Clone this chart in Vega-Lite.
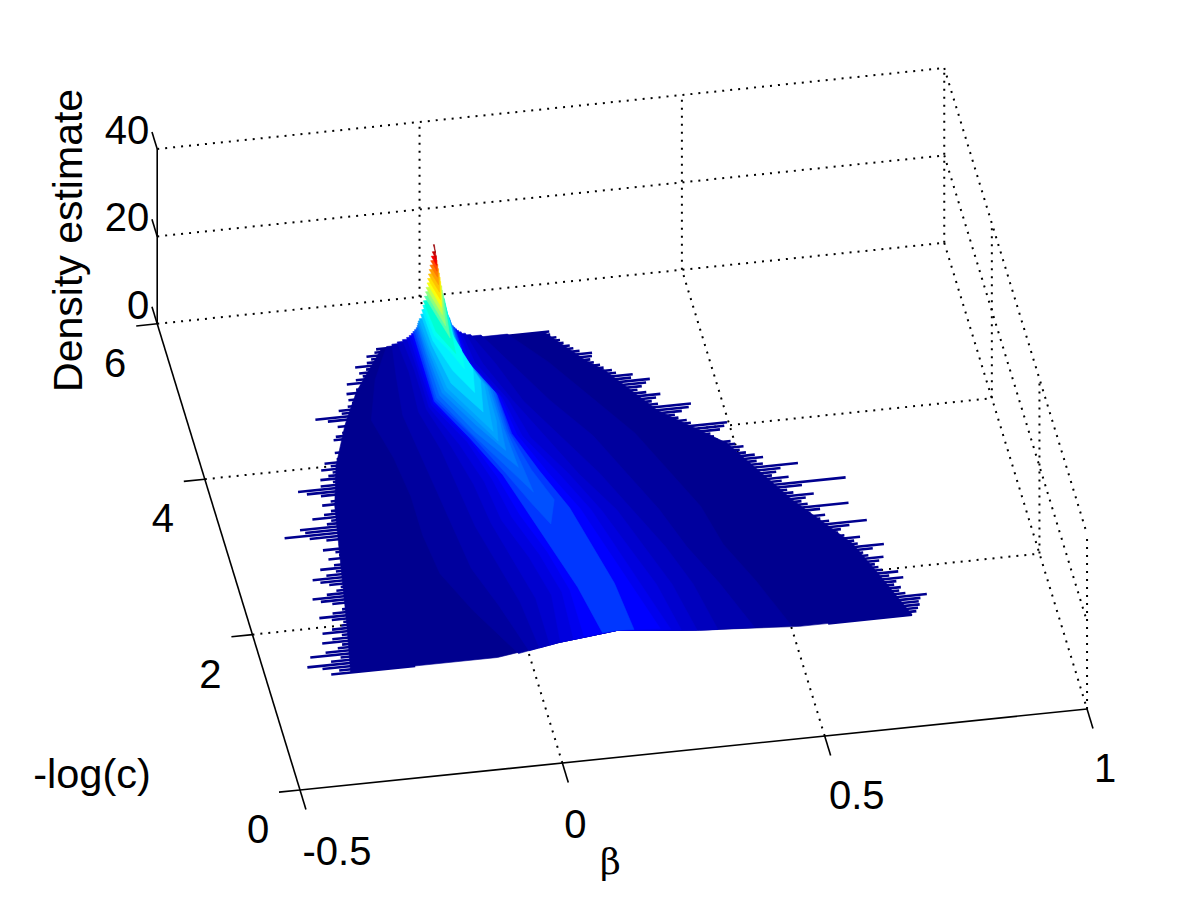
{"$schema":"https://vega.github.io/schema/vega-lite/v6.json","width":1200,"height":901,"padding":0,"autosize":"none","background":"white","view":{"stroke":null},
"config":{"text":{"font":"Liberation Sans","fontSize":40,"color":"black","baseline":"middle"}},
"datasets":{
"grid":[
{"b":-0.5,"c":6,"z":0,"b2":1,"c2":6,"z2":0},{"b":-0.5,"c":6,"z":20,"b2":1,"c2":6,"z2":20},{"b":-0.5,"c":6,"z":40,"b2":1,"c2":6,"z2":40},
{"b":0,"c":6,"z":0,"b2":0,"c2":6,"z2":40},{"b":0.5,"c":6,"z":0,"b2":0.5,"c2":6,"z2":40},{"b":1,"c":6,"z":0,"b2":1,"c2":6,"z2":40},
{"b":1,"c":6,"z":0,"b2":1,"c2":0,"z2":0},{"b":1,"c":6,"z":20,"b2":1,"c2":0,"z2":20},{"b":1,"c":6,"z":40,"b2":1,"c2":0,"z2":40},
{"b":1,"c":4,"z":0,"b2":1,"c2":4,"z2":40},{"b":1,"c":2,"z":0,"b2":1,"c2":2,"z2":40},{"b":1,"c":0,"z":0,"b2":1,"c2":0,"z2":40},
{"b":-0.5,"c":2,"z":0,"b2":1,"c2":2,"z2":0},{"b":-0.5,"c":4,"z":0,"b2":1,"c2":4,"z2":0},
{"b":0,"c":0,"z":0,"b2":0,"c2":6,"z2":0},{"b":0.5,"c":0,"z":0,"b2":0.5,"c2":6,"z2":0}],
"axes":[
{"b":-0.5,"c":0,"z":0,"b2":1,"c2":0,"z2":0},{"b":-0.5,"c":0,"z":0,"b2":-0.5,"c2":6,"z2":0},{"b":-0.5,"c":6,"z":0,"b2":-0.5,"c2":6,"z2":40},
{"b":-0.5,"c":0,"z":0,"b2":-0.5,"c2":-0.25,"z2":0},{"b":0,"c":0,"z":0,"b2":0,"c2":-0.25,"z2":0},{"b":0.5,"c":0,"z":0,"b2":0.5,"c2":-0.25,"z2":0},{"b":1,"c":0,"z":0,"b2":1,"c2":-0.25,"z2":0},
{"b":-0.5,"c":0,"z":0,"b2":-0.54,"c2":0,"z2":0},{"b":-0.5,"c":2,"z":0,"b2":-0.54,"c2":2,"z2":0},{"b":-0.5,"c":4,"z":0,"b2":-0.54,"c2":4,"z2":0},{"b":-0.5,"c":6,"z":0,"b2":-0.54,"c2":6,"z2":0},
{"b":-0.5,"c":6,"z":0,"b2":-0.5,"c2":6.22,"z2":0},{"b":-0.5,"c":6,"z":20,"b2":-0.5,"c2":6.22,"z2":20},{"b":-0.5,"c":6,"z":40,"b2":-0.5,"c2":6.22,"z2":40}],
"spikes":[
{"c":1.40,"b0":-0.377,"b1":0.73},{"c":1.44,"b0":-0.36,"b1":0.74},{"c":1.48,"b0":-0.39,"b1":0.745},{"c":1.52,"b0":-0.417,"b1":0.75},{"c":1.56,"b0":-0.37,"b1":0.75},{"c":1.60,"b0":-0.35,"b1":0.755},{"c":1.64,"b0":-0.406,"b1":0.769},{"c":1.68,"b0":-0.375,"b1":0.73},{"c":1.72,"b0":-0.35,"b1":0.72},{"c":1.76,"b0":-0.34,"b1":0.725},
{"c":1.80,"b0":-0.376,"b1":0.714},{"c":1.84,"b0":-0.355,"b1":0.72},{"c":1.88,"b0":-0.335,"b1":0.735},{"c":1.92,"b0":-0.37,"b1":0.71},{"c":1.96,"b0":-0.35,"b1":0.729},{"c":2.00,"b0":-0.33,"b1":0.70},{"c":2.04,"b0":-0.325,"b1":0.695},{"c":2.08,"b0":-0.345,"b1":0.69},{"c":2.12,"b0":-0.367,"b1":0.70},{"c":2.16,"b0":-0.34,"b1":0.71},
{"c":2.20,"b0":-0.32,"b1":0.683},{"c":2.24,"b0":-0.31,"b1":0.675},{"c":2.28,"b0":-0.335,"b1":0.695},{"c":2.32,"b0":-0.355,"b1":0.718},{"c":2.36,"b0":-0.369,"b1":0.67},{"c":2.40,"b0":-0.34,"b1":0.665},{"c":2.44,"b0":-0.32,"b1":0.678},{"c":2.48,"b0":-0.31,"b1":0.65},{"c":2.52,"b0":-0.33,"b1":0.64},{"c":2.56,"b0":-0.345,"b1":0.647},
{"c":2.60,"b0":-0.358,"b1":0.665},{"c":2.64,"b0":-0.33,"b1":0.70},{"c":2.68,"b0":-0.31,"b1":0.63},{"c":2.72,"b0":-0.338,"b1":0.615},{"c":2.76,"b0":-0.31,"b1":0.626},{"c":2.80,"b0":-0.295,"b1":0.60},{"c":2.84,"b0":-0.317,"b1":0.62},{"c":2.88,"b0":-0.295,"b1":0.676},{"c":2.92,"b0":-0.30,"b1":0.60},{"c":2.96,"b0":-0.322,"b1":0.59},
{"c":3.00,"b0":-0.29,"b1":0.60},{"c":3.04,"b0":-0.28,"b1":0.617},{"c":3.08,"b0":-0.31,"b1":0.58},{"c":3.12,"b0":-0.34,"b1":0.57},{"c":3.16,"b0":-0.386,"b1":0.60},{"c":3.20,"b0":-0.345,"b1":0.685},{"c":3.24,"b0":-0.353,"b1":0.565},{"c":3.28,"b0":-0.30,"b1":0.58},{"c":3.32,"b0":-0.29,"b1":0.55},{"c":3.36,"b0":-0.324,"b1":0.56},
{"c":3.40,"b0":-0.30,"b1":0.57},{"c":3.44,"b0":-0.285,"b1":0.605},{"c":3.48,"b0":-0.275,"b1":0.54},{"c":3.52,"b0":-0.298,"b1":0.53},{"c":3.56,"b0":-0.28,"b1":0.544},{"c":3.60,"b0":-0.27,"b1":0.53},{"c":3.64,"b0":-0.295,"b1":0.515},{"c":3.68,"b0":-0.32,"b1":0.505},{"c":3.72,"b0":-0.335,"b1":0.514},{"c":3.76,"b0":-0.29,"b1":0.50},
{"c":3.80,"b0":-0.265,"b1":0.493},{"c":3.84,"b0":-0.287,"b1":0.47},{"c":3.88,"b0":-0.27,"b1":0.465},{"c":3.92,"b0":-0.26,"b1":0.46},{"c":3.96,"b0":-0.28,"b1":0.48},{"c":4.00,"b0":-0.26,"b1":0.49},{"c":4.04,"b0":-0.27,"b1":0.497},{"c":4.08,"b0":-0.245,"b1":0.43},{"c":4.12,"b0":-0.235,"b1":0.424},{"c":4.16,"b0":-0.245,"b1":0.41},
{"c":4.20,"b0":-0.23,"b1":0.405},{"c":4.24,"b0":-0.225,"b1":0.42},{"c":4.28,"b0":-0.22,"b1":0.435},{"c":4.32,"b0":-0.24,"b1":0.441},{"c":4.36,"b0":-0.234,"b1":0.38},{"c":4.40,"b0":-0.22,"b1":0.37},{"c":4.44,"b0":-0.21,"b1":0.38},{"c":4.48,"b0":-0.225,"b1":0.39},{"c":4.52,"b0":-0.205,"b1":0.365},{"c":4.56,"b0":-0.24,"b1":0.35},
{"c":4.60,"b0":-0.262,"b1":0.36},{"c":4.64,"b0":-0.21,"b1":0.37},{"c":4.68,"b0":-0.214,"b1":0.379},{"c":4.72,"b0":-0.195,"b1":0.345},{"c":4.76,"b0":-0.185,"b1":0.35},{"c":4.80,"b0":-0.19,"b1":0.32},{"c":4.84,"b0":-0.175,"b1":0.314},{"c":4.88,"b0":-0.19,"b1":0.30},{"c":4.92,"b0":-0.17,"b1":0.295},{"c":4.96,"b0":-0.16,"b1":0.285},
{"c":5.00,"b0":-0.184,"b1":0.28},{"c":5.04,"b0":-0.165,"b1":0.285},{"c":5.08,"b0":-0.15,"b1":0.287},{"c":5.12,"b0":-0.155,"b1":0.265},{"c":5.16,"b0":-0.14,"b1":0.255},{"c":5.20,"b0":-0.159,"b1":0.25},{"c":5.24,"b0":-0.135,"b1":0.24},{"c":5.28,"b0":-0.125,"b1":0.235},{"c":5.32,"b0":-0.132,"b1":0.23},{"c":5.36,"b0":-0.115,"b1":0.22},{"c":5.40,"b0":-0.11,"b1":0.22}],
"surface":[
{"l":0,"b":-0.34,"c":1.4,"z":0},{"l":0,"b":-0.32,"c":2,"z":0},{"l":0,"b":-0.29,"c":3,"z":0},{"l":0,"b":-0.275,"c":3.5,"z":0},{"l":0,"b":-0.25,"c":4,"z":0},{"l":0,"b":-0.21,"c":4.5,"z":0},{"l":0,"b":-0.17,"c":4.9,"z":0},{"l":0,"b":-0.1,"c":5.4,"z":0},{"l":0,"b":0.21,"c":5.4,"z":0},{"l":0,"b":0.27,"c":5,"z":0},{"l":0,"b":0.3,"c":4.85,"z":0},{"l":0,"b":0.375,"c":4.28,"z":0},{"l":0,"b":0.485,"c":3.78,"z":0},{"l":0,"b":0.575,"c":2.98,"z":0},{"l":0,"b":0.66,"c":2.37,"z":0},{"l":0,"b":0.69,"c":1.97,"z":0},{"l":0,"b":0.716,"c":1.6,"z":0},{"l":0,"b":0.73,"c":1.4,"z":0},{"l":0,"b":0.516,"c":1.4,"z":0},{"l":0,"b":0.325,"c":1.4,"z":1.5},{"l":0,"b":0.23,"c":1.4,"z":2.6},{"l":0,"b":0.17,"c":1.4,"z":3.4},{"l":0,"b":0.115,"c":1.4,"z":2.7},{"l":0,"b":0.058,"c":1.4,"z":2},{"l":0,"b":-0.06,"c":1.4,"z":0},
{"l":0.4,"b":-0.02,"c":1.4,"z":0.4},{"l":0.4,"b":-0.08,"c":2,"z":0.4},{"l":0.4,"b":-0.12,"c":2.5,"z":0.4},{"l":0.4,"b":-0.13,"c":3,"z":0.4},{"l":0.4,"b":-0.13,"c":3.5,"z":0.4},{"l":0.4,"b":-0.14,"c":4,"z":0.4},{"l":0.4,"b":-0.16,"c":4.5,"z":0.4},{"l":0.4,"b":-0.13,"c":5,"z":0.4},{"l":0.4,"b":-0.09,"c":5.4,"z":0.4},{"l":0.4,"b":0.14,"c":5.4,"z":0.4},{"l":0.4,"b":0.2,"c":5,"z":0.4},{"l":0.4,"b":0.26,"c":4.5,"z":0.4},{"l":0.4,"b":0.32,"c":4,"z":0.4},{"l":0.4,"b":0.36,"c":3.5,"z":0.4},{"l":0.4,"b":0.4,"c":3,"z":0.4},{"l":0.4,"b":0.42,"c":2.5,"z":0.4},{"l":0.4,"b":0.46,"c":2,"z":0.4},{"l":0.4,"b":0.5,"c":1.4,"z":0.4},{"l":0.4,"b":0.325,"c":1.4,"z":1.5},{"l":0.4,"b":0.23,"c":1.4,"z":2.6},{"l":0.4,"b":0.17,"c":1.4,"z":3.4},{"l":0.4,"b":0.115,"c":1.4,"z":2.7},{"l":0.4,"b":0.058,"c":1.4,"z":2},
{"l":0.8,"b":0,"c":1.4,"z":0.8},{"l":0.8,"b":-0.03,"c":2,"z":0.8},{"l":0.8,"b":-0.06,"c":2.5,"z":0.8},{"l":0.8,"b":-0.07,"c":3,"z":0.8},{"l":0.8,"b":-0.08,"c":3.5,"z":0.8},{"l":0.8,"b":-0.09,"c":4,"z":0.8},{"l":0.8,"b":-0.1,"c":4.5,"z":0.8},{"l":0.8,"b":-0.09,"c":5,"z":0.8},{"l":0.8,"b":-0.08,"c":5.4,"z":0.8},{"l":0.8,"b":0.09,"c":5.4,"z":0.8},{"l":0.8,"b":0.13,"c":5,"z":0.8},{"l":0.8,"b":0.18,"c":4.5,"z":0.8},{"l":0.8,"b":0.24,"c":4,"z":0.8},{"l":0.8,"b":0.28,"c":3.5,"z":0.8},{"l":0.8,"b":0.32,"c":3,"z":0.8},{"l":0.8,"b":0.35,"c":2.5,"z":0.8},{"l":0.8,"b":0.39,"c":2,"z":0.8},{"l":0.8,"b":0.43,"c":1.4,"z":0.8},{"l":0.8,"b":0.325,"c":1.4,"z":1.5},{"l":0.8,"b":0.23,"c":1.4,"z":2.6},{"l":0.8,"b":0.17,"c":1.4,"z":3.4},{"l":0.8,"b":0.115,"c":1.4,"z":2.7},{"l":0.8,"b":0.058,"c":1.4,"z":2},
{"l":1.2,"b":0.02,"c":1.4,"z":1.2},{"l":1.2,"b":0.01,"c":2,"z":1.2},{"l":1.2,"b":-0.01,"c":2.5,"z":1.2},{"l":1.2,"b":-0.03,"c":3,"z":1.2},{"l":1.2,"b":-0.04,"c":3.5,"z":1.2},{"l":1.2,"b":-0.05,"c":4,"z":1.2},{"l":1.2,"b":-0.07,"c":4.5,"z":1.2},{"l":1.2,"b":-0.065,"c":5,"z":1.2},{"l":1.2,"b":-0.07,"c":5.4,"z":1.2},{"l":1.2,"b":0.07,"c":5.4,"z":1.2},{"l":1.2,"b":0.1,"c":5,"z":1.2},{"l":1.2,"b":0.13,"c":4.5,"z":1.2},{"l":1.2,"b":0.18,"c":4,"z":1.2},{"l":1.2,"b":0.23,"c":3.5,"z":1.2},{"l":1.2,"b":0.27,"c":3,"z":1.2},{"l":1.2,"b":0.31,"c":2.5,"z":1.2},{"l":1.2,"b":0.34,"c":2,"z":1.2},{"l":1.2,"b":0.36,"c":1.4,"z":1.2},{"l":1.2,"b":0.325,"c":1.4,"z":1.5},{"l":1.2,"b":0.23,"c":1.4,"z":2.6},{"l":1.2,"b":0.17,"c":1.4,"z":3.4},{"l":1.2,"b":0.115,"c":1.4,"z":2.7},{"l":1.2,"b":0.058,"c":1.4,"z":2},
{"l":1.6,"b":0.04,"c":1.4,"z":1.6},{"l":1.6,"b":0.04,"c":2,"z":1.6},{"l":1.6,"b":0.02,"c":2.5,"z":1.6},{"l":1.6,"b":0,"c":3,"z":1.6},{"l":1.6,"b":-0.01,"c":3.5,"z":1.6},{"l":1.6,"b":-0.03,"c":4,"z":1.6},{"l":1.6,"b":-0.055,"c":4.5,"z":1.6},{"l":1.6,"b":-0.055,"c":5,"z":1.6},{"l":1.6,"b":-0.06,"c":5.4,"z":1.6},{"l":1.6,"b":0.06,"c":5.4,"z":1.6},{"l":1.6,"b":0.075,"c":5,"z":1.6},{"l":1.6,"b":0.11,"c":4.5,"z":1.6},{"l":1.6,"b":0.15,"c":4,"z":1.6},{"l":1.6,"b":0.19,"c":3.5,"z":1.6},{"l":1.6,"b":0.24,"c":3,"z":1.6},{"l":1.6,"b":0.27,"c":2.5,"z":1.6},{"l":1.6,"b":0.3,"c":2,"z":1.6},{"l":1.6,"b":0.32,"c":1.4,"z":1.6},{"l":1.6,"b":0.23,"c":1.4,"z":2.6},{"l":1.6,"b":0.17,"c":1.4,"z":3.4},{"l":1.6,"b":0.115,"c":1.4,"z":2.7},{"l":1.6,"b":0.058,"c":1.4,"z":2},
{"l":2,"b":0.06,"c":1.4,"z":2},{"l":2,"b":0.07,"c":2,"z":2},{"l":2,"b":0.05,"c":2.5,"z":2},{"l":2,"b":0.02,"c":3,"z":2},{"l":2,"b":0.01,"c":3.5,"z":2},{"l":2,"b":-0.015,"c":4,"z":2},{"l":2,"b":-0.05,"c":4.5,"z":2},{"l":2,"b":-0.05,"c":5,"z":2},{"l":2,"b":-0.052,"c":5.4,"z":2},{"l":2,"b":0.052,"c":5.4,"z":2},{"l":2,"b":0.06,"c":5,"z":2},{"l":2,"b":0.1,"c":4.5,"z":2},{"l":2,"b":0.12,"c":4,"z":2},{"l":2,"b":0.17,"c":3.5,"z":2},{"l":2,"b":0.21,"c":3,"z":2},{"l":2,"b":0.24,"c":2.5,"z":2},{"l":2,"b":0.27,"c":2,"z":2},{"l":2,"b":0.29,"c":1.4,"z":2},{"l":2,"b":0.23,"c":1.4,"z":2.6},{"l":2,"b":0.17,"c":1.4,"z":3.4},{"l":2,"b":0.115,"c":1.4,"z":2.7},
{"l":2.4,"b":0.085,"c":1.4,"z":2.4},{"l":2.4,"b":0.09,"c":2,"z":2.4},{"l":2.4,"b":0.07,"c":2.5,"z":2.4},{"l":2.4,"b":0.04,"c":3,"z":2.4},{"l":2.4,"b":0.025,"c":3.5,"z":2.4},{"l":2.4,"b":0,"c":4,"z":2.4},{"l":2.4,"b":-0.045,"c":4.5,"z":2.4},{"l":2.4,"b":-0.047,"c":5,"z":2.4},{"l":2.4,"b":-0.047,"c":5.4,"z":2.4},{"l":2.4,"b":0.047,"c":5.4,"z":2.4},{"l":2.4,"b":0.05,"c":5,"z":2.4},{"l":2.4,"b":0.09,"c":4.5,"z":2.4},{"l":2.4,"b":0.105,"c":4,"z":2.4},{"l":2.4,"b":0.15,"c":3.5,"z":2.4},{"l":2.4,"b":0.19,"c":3,"z":2.4},{"l":2.4,"b":0.215,"c":2.5,"z":2.4},{"l":2.4,"b":0.24,"c":2,"z":2.4},{"l":2.4,"b":0.27,"c":1.4,"z":2.4},{"l":2.4,"b":0.23,"c":1.4,"z":2.6},{"l":2.4,"b":0.17,"c":1.4,"z":3.4},{"l":2.4,"b":0.115,"c":1.4,"z":2.7},
{"l":2.8,"b":0.105,"c":1.4,"z":2.8},{"l":2.8,"b":0.105,"c":2,"z":2.8},{"l":2.8,"b":0.085,"c":2.5,"z":2.8},{"l":2.8,"b":0.055,"c":3,"z":2.8},{"l":2.8,"b":0.035,"c":3.5,"z":2.8},{"l":2.8,"b":0.005,"c":4,"z":2.8},{"l":2.8,"b":-0.042,"c":4.5,"z":2.8},{"l":2.8,"b":-0.043,"c":5,"z":2.8},{"l":2.8,"b":-0.043,"c":5.4,"z":2.8},{"l":2.8,"b":0.043,"c":5.4,"z":2.8},{"l":2.8,"b":0.045,"c":5,"z":2.8},{"l":2.8,"b":0.085,"c":4.5,"z":2.8},{"l":2.8,"b":0.095,"c":4,"z":2.8},{"l":2.8,"b":0.13,"c":3.5,"z":2.8},{"l":2.8,"b":0.17,"c":3,"z":2.8},{"l":2.8,"b":0.195,"c":2.5,"z":2.8},{"l":2.8,"b":0.22,"c":2,"z":2.8},{"l":2.8,"b":0.25,"c":1.4,"z":2.8},{"l":2.8,"b":0.17,"c":1.4,"z":3.4},
{"l":3.2,"b":0.14,"c":1.4,"z":3.2},{"l":3.2,"b":0.12,"c":2,"z":3.2},{"l":3.2,"b":0.095,"c":2.5,"z":3.2},{"l":3.2,"b":0.07,"c":3,"z":3.2},{"l":3.2,"b":0.045,"c":3.5,"z":3.2},{"l":3.2,"b":0.005,"c":4,"z":3.2},{"l":3.2,"b":-0.04,"c":4.5,"z":3.2},{"l":3.2,"b":-0.04,"c":5,"z":3.2},{"l":3.2,"b":-0.04,"c":5.4,"z":3.2},{"l":3.2,"b":0.04,"c":5.4,"z":3.2},{"l":3.2,"b":0.04,"c":5,"z":3.2},{"l":3.2,"b":0.08,"c":4.5,"z":3.2},{"l":3.2,"b":0.085,"c":4,"z":3.2},{"l":3.2,"b":0.115,"c":3.5,"z":3.2},{"l":3.2,"b":0.15,"c":3,"z":3.2},{"l":3.2,"b":0.17,"c":2.5,"z":3.2},{"l":3.2,"b":0.19,"c":2,"z":3.2},{"l":3.2,"b":0.2,"c":1.4,"z":3.2},{"l":3.2,"b":0.17,"c":1.4,"z":3.4},
{"l":3.6,"b":0.105,"c":2.8,"z":3.6},{"l":3.6,"b":0.08,"c":3.1,"z":3.6},{"l":3.6,"b":0.05,"c":3.5,"z":3.6},{"l":3.6,"b":0.01,"c":4,"z":3.6},{"l":3.6,"b":-0.038,"c":4.5,"z":3.6},{"l":3.6,"b":-0.037,"c":5,"z":3.6},{"l":3.6,"b":-0.037,"c":5.4,"z":3.6},{"l":3.6,"b":0.037,"c":5.4,"z":3.6},{"l":3.6,"b":0.037,"c":5,"z":3.6},{"l":3.6,"b":0.078,"c":4.5,"z":3.6},{"l":3.6,"b":0.08,"c":4,"z":3.6},{"l":3.6,"b":0.1,"c":3.5,"z":3.6},{"l":3.6,"b":0.125,"c":3.1,"z":3.6},
{"l":4,"b":0.09,"c":3.2,"z":4},{"l":4,"b":0.06,"c":3.5,"z":4},{"l":4,"b":0.01,"c":4,"z":4},{"l":4,"b":-0.035,"c":4.5,"z":4},{"l":4,"b":-0.035,"c":5,"z":4},{"l":4,"b":-0.034,"c":5.4,"z":4},{"l":4,"b":0.034,"c":5.4,"z":4},{"l":4,"b":0.035,"c":5,"z":4},{"l":4,"b":0.075,"c":4.5,"z":4},{"l":4,"b":0.075,"c":4,"z":4},{"l":4,"b":0.085,"c":3.5,"z":4},
{"l":4.5,"b":0.075,"c":3.5,"z":4.5},{"l":4.5,"b":0.015,"c":4,"z":4.5},{"l":4.5,"b":-0.03,"c":4.5,"z":4.5},{"l":4.5,"b":-0.032,"c":5,"z":4.5},{"l":4.5,"b":-0.032,"c":5.4,"z":4.5},{"l":4.5,"b":0.032,"c":5.4,"z":4.5},{"l":4.5,"b":0.032,"c":5,"z":4.5},{"l":4.5,"b":0.07,"c":4.5,"z":4.5},{"l":4.5,"b":0.07,"c":4,"z":4.5},
{"l":5,"b":0.06,"c":3.7,"z":5},{"l":5,"b":0.02,"c":4.05,"z":5},{"l":5,"b":-0.025,"c":4.5,"z":5},{"l":5,"b":-0.03,"c":5,"z":5},{"l":5,"b":-0.031,"c":5.4,"z":5},{"l":5,"b":0.031,"c":5.4,"z":5},{"l":5,"b":0.03,"c":5,"z":5},{"l":5,"b":0.065,"c":4.5,"z":5},{"l":5,"b":0.065,"c":4.05,"z":5},
{"l":5.5,"b":0.05,"c":3.8,"z":5.5},{"l":5.5,"b":0.025,"c":4.05,"z":5.5},{"l":5.5,"b":-0.02,"c":4.5,"z":5.5},{"l":5.5,"b":-0.027,"c":5,"z":5.5},{"l":5.5,"b":-0.03,"c":5.4,"z":5.5},{"l":5.5,"b":0.03,"c":5.4,"z":5.5},{"l":5.5,"b":0.027,"c":5,"z":5.5},{"l":5.5,"b":0.06,"c":4.5,"z":5.5},{"l":5.5,"b":0.058,"c":4.05,"z":5.5},
{"l":6,"b":0.045,"c":3.9,"z":6},{"l":6,"b":-0.015,"c":4.5,"z":6},{"l":6,"b":-0.025,"c":5,"z":6},{"l":6,"b":-0.028,"c":5.4,"z":6},{"l":6,"b":0.028,"c":5.4,"z":6},{"l":6,"b":0.025,"c":5,"z":6},{"l":6,"b":0.055,"c":4.5,"z":6},
{"l":7,"b":0.035,"c":4.1,"z":7},{"l":7,"b":-0.008,"c":4.5,"z":7},{"l":7,"b":-0.022,"c":5,"z":7},{"l":7,"b":-0.025,"c":5.4,"z":7},{"l":7,"b":0.025,"c":5.4,"z":7},{"l":7,"b":0.022,"c":5,"z":7},{"l":7,"b":0.048,"c":4.5,"z":7},
{"l":8,"b":0.028,"c":4.3,"z":8},{"l":8,"b":0,"c":4.6,"z":8},{"l":8,"b":-0.02,"c":5,"z":8},{"l":8,"b":-0.023,"c":5.4,"z":8},{"l":8,"b":0.023,"c":5.4,"z":8},{"l":8,"b":0.02,"c":5,"z":8},{"l":8,"b":0.038,"c":4.6,"z":8},
{"l":9,"b":0.02,"c":4.55,"z":9},{"l":9,"b":0.002,"c":4.8,"z":9},{"l":9,"b":-0.017,"c":5,"z":9},{"l":9,"b":-0.021,"c":5.4,"z":9},{"l":9,"b":0.021,"c":5.4,"z":9},{"l":9,"b":0.017,"c":5,"z":9},{"l":9,"b":0.025,"c":4.8,"z":9},
{"l":10,"b":0.01,"c":4.7,"z":10},{"l":10,"b":-0.014,"c":5,"z":10},{"l":10,"b":-0.02,"c":5.4,"z":10},{"l":10,"b":0.02,"c":5.4,"z":10},{"l":10,"b":0.014,"c":5,"z":10},
{"l":11,"b":0.006,"c":4.85,"z":11},{"l":11,"b":-0.018,"c":5.4,"z":11},{"l":11,"b":0.018,"c":5.4,"z":11},
{"l":12,"b":0.002,"c":4.95,"z":12},{"l":12,"b":-0.016,"c":5.4,"z":12},{"l":12,"b":0.016,"c":5.4,"z":12},
{"l":13,"b":0,"c":5.04,"z":13},{"l":13,"b":-0.015,"c":5.4,"z":13},{"l":13,"b":0.015,"c":5.4,"z":13},
{"l":14,"b":0,"c":5.08,"z":14},{"l":14,"b":-0.013,"c":5.4,"z":14},{"l":14,"b":0.013,"c":5.4,"z":14},
{"l":15,"b":0,"c":5.12,"z":15},{"l":15,"b":-0.012,"c":5.4,"z":15},{"l":15,"b":0.012,"c":5.4,"z":15},
{"l":16,"b":0,"c":5.16,"z":16},{"l":16,"b":-0.0105,"c":5.4,"z":16},{"l":16,"b":0.0105,"c":5.4,"z":16},
{"l":17,"b":0,"c":5.2,"z":17},{"l":17,"b":-0.009,"c":5.4,"z":17},{"l":17,"b":0.009,"c":5.4,"z":17},
{"l":18,"b":0,"c":5.24,"z":18},{"l":18,"b":-0.0075,"c":5.4,"z":18},{"l":18,"b":0.0075,"c":5.4,"z":18},
{"l":19,"b":0,"c":5.26,"z":19},{"l":19,"b":-0.006,"c":5.4,"z":19},{"l":19,"b":0.006,"c":5.4,"z":19},
{"l":20,"b":0,"c":5.28,"z":20},{"l":20,"b":-0.005,"c":5.4,"z":20},{"l":20,"b":0.005,"c":5.4,"z":20},
{"l":21,"b":0,"c":5.3,"z":21},{"l":21,"b":-0.003,"c":5.4,"z":21},{"l":21,"b":0.003,"c":5.4,"z":21},
{"l":22,"b":0,"c":5.33,"z":22},{"l":22,"b":-0.001,"c":5.4,"z":22.6},{"l":22,"b":0.001,"c":5.4,"z":22.6}],
"labels":[
{"k":"cax","t":"0","b":-0.5,"c":0,"z":0},{"k":"cax","t":"2","b":-0.5,"c":2,"z":0},{"k":"cax","t":"4","b":-0.5,"c":4,"z":0},{"k":"cax","t":"6","b":-0.5,"c":6,"z":0},
{"k":"zax","t":"0","b":-0.5,"c":6,"z":0},{"k":"zax","t":"20","b":-0.5,"c":6,"z":20},{"k":"zax","t":"40","b":-0.5,"c":6,"z":40},
{"k":"b1","t":"-0.5","b":-0.5,"c":0,"z":0},{"k":"b2","t":"0","b":0,"c":0,"z":0},{"k":"b3","t":"0.5","b":0.5,"c":0,"z":0},{"k":"b4","t":"1","b":1,"c":0,"z":0},
{"k":"tb","t":"β","b":0,"c":0,"z":0},{"k":"tc","t":"-log(c)","b":-0.5,"c":0,"z":0},{"k":"tz","t":"Density estimate","b":-0.5,"c":6,"z":20}]
},
"encoding":{
"x":{"field":"px","type":"quantitative","scale":{"domain":[0,1200],"nice":false,"zero":false},"axis":null},
"y":{"field":"py","type":"quantitative","scale":{"domain":[901,0],"nice":false,"zero":false},"axis":null}},
"layer":[
{"data":{"name":"grid"},"transform":[{"calculate":"300+(datum.b+0.5)*524.7-datum.c*23.8","as":"px"},{"calculate":"790-(datum.b+0.5)*54-datum.c*77.7-datum.z*4.37","as":"py"},{"calculate":"300+(datum.b2+0.5)*524.7-datum.c2*23.8","as":"px2"},{"calculate":"790-(datum.b2+0.5)*54-datum.c2*77.7-datum.z2*4.37","as":"py2"}],
"mark":{"type":"rule","color":"black","strokeWidth":2,"strokeDash":[2,6]},"encoding":{"x2":{"field":"px2"},"y2":{"field":"py2"}}},
{"data":{"name":"axes"},"transform":[{"calculate":"300+(datum.b+0.5)*524.7-datum.c*23.8","as":"px"},{"calculate":"790-(datum.b+0.5)*54-datum.c*77.7-datum.z*4.37","as":"py"},{"calculate":"300+(datum.b2+0.5)*524.7-datum.c2*23.8","as":"px2"},{"calculate":"790-(datum.b2+0.5)*54-datum.c2*77.7-datum.z2*4.37","as":"py2"}],
"mark":{"type":"rule","color":"black","strokeWidth":1.6},"encoding":{"x2":{"field":"px2"},"y2":{"field":"py2"}}},
{"data":{"name":"spikes"},"transform":[{"calculate":"300+(datum.b0+0.5)*524.7-datum.c*23.8","as":"px"},{"calculate":"790-(datum.b0+0.5)*54-datum.c*77.7","as":"py"},{"calculate":"300+(datum.b0+0.66)*524.7-datum.c*23.8","as":"px2"},{"calculate":"790-(datum.b0+0.66)*54-datum.c*77.7","as":"py2"}],
"mark":{"type":"rule","color":"#00008f","strokeWidth":2.6},"encoding":{"x2":{"field":"px2"},"y2":{"field":"py2"}}},
{"data":{"name":"spikes"},"transform":[{"calculate":"300+(datum.b1+0.5)*524.7-datum.c*23.8","as":"px"},{"calculate":"790-(datum.b1+0.5)*54-datum.c*77.7","as":"py"},{"calculate":"300+(datum.b1+0.34)*524.7-datum.c*23.8","as":"px2"},{"calculate":"790-(datum.b1+0.34)*54-datum.c*77.7","as":"py2"}],
"mark":{"type":"rule","color":"#00008f","strokeWidth":2.6},"encoding":{"x2":{"field":"px2"},"y2":{"field":"py2"}}},
{"data":{"name":"surface"},"transform":[{"window":[{"op":"row_number","as":"i"}]},{"calculate":"300+(datum.b+0.5)*524.7-datum.c*23.8","as":"px"},{"calculate":"790-(datum.b+0.5)*54-datum.c*77.7-datum.z*4.37","as":"py"}],
"mark":{"type":"line","interpolate":"linear-closed","strokeWidth":0.6},
"encoding":{"order":{"field":"i","type":"quantitative"},"detail":{"field":"l"},
"fill":{"field":"l","type":"quantitative","legend":null,"scale":{"domain":[0,2.8,8.5,14.1,19.8,22.6],"range":["#00008f","#0000ff","#00ffff","#ffff00","#ff0000","#800000"]}},
"stroke":{"field":"l","type":"quantitative","legend":null,"scale":{"domain":[0,2.8,8.5,14.1,19.8,22.6],"range":["#00008f","#0000ff","#00ffff","#ffff00","#ff0000","#800000"]}}}},
{"data":{"name":"labels"},"transform":[{"filter":"datum.k=='cax'"},{"calculate":"300+(datum.b+0.5)*524.7-datum.c*23.8","as":"px"},{"calculate":"790-(datum.b+0.5)*54-datum.c*77.7-datum.z*4.37","as":"py"}],"mark":{"type":"text","dx":-42,"dy":41},"encoding":{"text":{"field":"t"}}},
{"data":{"name":"labels"},"transform":[{"filter":"datum.k=='zax'"},{"calculate":"300+(datum.b+0.5)*524.7-datum.c*23.8","as":"px"},{"calculate":"790-(datum.b+0.5)*54-datum.c*77.7-datum.z*4.37","as":"py"}],"mark":{"type":"text","align":"right","dx":-8,"dy":-17},"encoding":{"text":{"field":"t"}}},
{"data":{"name":"labels"},"transform":[{"filter":"datum.k=='b1'"},{"calculate":"300+(datum.b+0.5)*524.7-datum.c*23.8","as":"px"},{"calculate":"790-(datum.b+0.5)*54-datum.c*77.7-datum.z*4.37","as":"py"}],"mark":{"type":"text","dx":37,"dy":63},"encoding":{"text":{"field":"t"}}},
{"data":{"name":"labels"},"transform":[{"filter":"datum.k=='b2'"},{"calculate":"300+(datum.b+0.5)*524.7-datum.c*23.8","as":"px"},{"calculate":"790-(datum.b+0.5)*54-datum.c*77.7-datum.z*4.37","as":"py"}],"mark":{"type":"text","dx":13,"dy":63},"encoding":{"text":{"field":"t"}}},
{"data":{"name":"labels"},"transform":[{"filter":"datum.k=='b3'"},{"calculate":"300+(datum.b+0.5)*524.7-datum.c*23.8","as":"px"},{"calculate":"790-(datum.b+0.5)*54-datum.c*77.7-datum.z*4.37","as":"py"}],"mark":{"type":"text","dx":32,"dy":61},"encoding":{"text":{"field":"t"}}},
{"data":{"name":"labels"},"transform":[{"filter":"datum.k=='b4'"},{"calculate":"300+(datum.b+0.5)*524.7-datum.c*23.8","as":"px"},{"calculate":"790-(datum.b+0.5)*54-datum.c*77.7-datum.z*4.37","as":"py"}],"mark":{"type":"text","dx":18,"dy":61},"encoding":{"text":{"field":"t"}}},
{"data":{"name":"labels"},"transform":[{"filter":"datum.k=='tb'"},{"calculate":"300+(datum.b+0.5)*524.7-datum.c*23.8","as":"px"},{"calculate":"790-(datum.b+0.5)*54-datum.c*77.7-datum.z*4.37","as":"py"}],"mark":{"type":"text","font":"DejaVu Serif","fontSize":36,"dx":48,"dy":100},"encoding":{"text":{"field":"t"}}},
{"data":{"name":"labels"},"transform":[{"filter":"datum.k=='tc'"},{"calculate":"300+(datum.b+0.5)*524.7-datum.c*23.8","as":"px"},{"calculate":"790-(datum.b+0.5)*54-datum.c*77.7-datum.z*4.37","as":"py"}],"mark":{"type":"text","fontSize":41.5,"dx":-208,"dy":-14},"encoding":{"text":{"field":"t"}}},
{"data":{"name":"labels"},"transform":[{"filter":"datum.k=='tz'"},{"calculate":"300+(datum.b+0.5)*524.7-datum.c*23.8","as":"px"},{"calculate":"790-(datum.b+0.5)*54-datum.c*77.7-datum.z*4.37","as":"py"}],"mark":{"type":"text","angle":270,"fontSize":41,"dx":-4,"dy":-87},"encoding":{"text":{"field":"t"}}}
]}
